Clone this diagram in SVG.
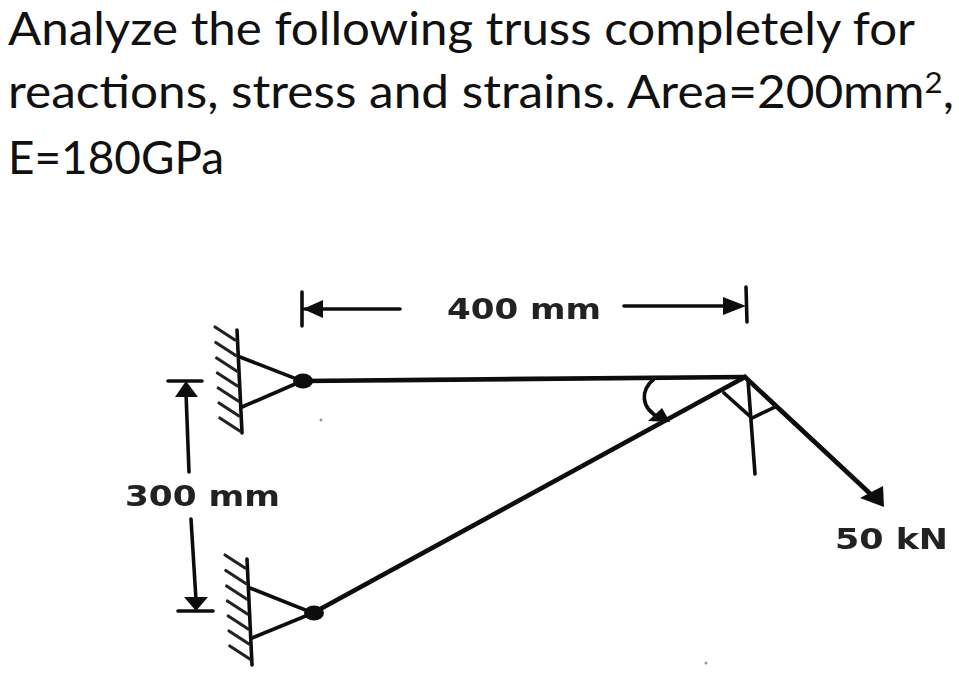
<svg xmlns="http://www.w3.org/2000/svg" width="959" height="674" viewBox="0 0 959 674">
<style>
.t{font-family:Lato,"Open Sans",sans-serif;font-size:46px;fill:#111}
.l{font-family:"DejaVu Sans","Liberation Sans",sans-serif;font-size:29px;font-weight:700;fill:#222}
.m{fill:none;stroke:#0c0c0c;stroke-width:4.6;stroke-linecap:round}
.w{fill:none;stroke:#0c0c0c;stroke-width:3.6;stroke-linecap:round}
.d{fill:none;stroke:#111;stroke-width:3.6;stroke-linecap:round}
.h{fill:none;stroke:#222;stroke-width:3.2;stroke-linecap:round}
.a{fill:#0c0c0c}
</style>
<defs>
<filter id="soft" x="-5%" y="-5%" width="110%" height="110%"><feGaussianBlur stdDeviation="0.6"/></filter>
<g id="hatch">
<path class="h" d="M0 0L20 13M.8 15.500L20.800 28.500M1.600 31L21.600 44M2.400 46L22.400 59M3.200 61L23.200 74M4 76L24 89M4.800 91L24.800 104"/>
</g>
</defs>
<rect width="959" height="674" fill="#fff"/>
<g id="title">
<text class="t" x="8" y="45" textLength="907" lengthAdjust="spacingAndGlyphs">Analyze the following truss completely for</text>
<text class="t" x="8" y="108" textLength="946" lengthAdjust="spacingAndGlyphs">reactions, stress and strains. Area=200mm<tspan font-size="29" dy="-15">2</tspan><tspan dy="15">,</tspan></text>
<text class="t" x="8" y="174" textLength="216" lengthAdjust="spacingAndGlyphs">E=180GPa</text>
</g>
<g filter="url(#soft)">
<g id="connectors">
<path class="m" d="M302 381L745 377"/>
<path class="m" d="M313 613L745 377"/>
<path class="m" d="M745 377L878 501"/>
<path class="d" d="M748 380L755 474"/>
<path class="d" d="M724 393L752 418L775 407"/>
<path class="d" d="M655 378C640 390 640 408 660 418"/>
<polygon class="a" points="648,421 662,408 670,422"/>
<polygon class="a" points="884,507 860,498 883,486"/>
</g>
<g id="support-top">
<path class="w" d="M237 330L242 433"/>
<use href="#hatch" x="215" y="327"/>
<path class="d" d="M240 357L302 381L242 407"/>
<ellipse class="a" cx="303" cy="381" rx="10" ry="7.500"/>
</g>
<g id="support-bottom">
<path class="w" d="M247 559L252 665"/>
<use href="#hatch" x="225" y="555"/>
<path class="d" d="M250 588L313 613L252 638"/>
<ellipse class="a" cx="314" cy="613" rx="10" ry="7.500"/>
</g>
<g id="dim-400">
<path class="d" d="M302 292L302 326M305 309L400 309"/>
<polygon class="a" points="303,309 323,300 323,318"/>
<text class="l" x="447" y="319" textLength="154" lengthAdjust="spacingAndGlyphs">400 mm</text>
<path class="d" d="M624 306L723 306M746 287L747 322"/>
<polygon class="a" points="746,306 723,297 723,315"/>
</g>
<g id="dim-300">
<path class="d" d="M168 381L202 381M186 393L189 472"/>
<polygon class="a" points="186,381 175,397 198,397"/>
<text class="l" x="125" y="506" textLength="155" lengthAdjust="spacingAndGlyphs">300 mm</text>
<path class="d" d="M191 519L196 600M178 611L213 611"/>
<polygon class="a" points="196,611 184,597 208,597"/>
</g>
<g id="load">
<text class="l" x="835" y="549" textLength="113" lengthAdjust="spacingAndGlyphs">50 kN</text>
</g>
<circle cx="321" cy="420" r="1.500" fill="#999"/>
<circle cx="706" cy="663" r="1.500" fill="#999"/>
</g>
</svg>
